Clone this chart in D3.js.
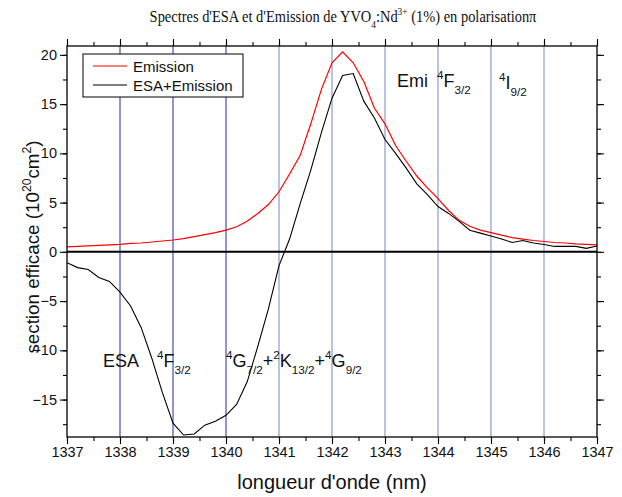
<!DOCTYPE html>
<html><head><meta charset="utf-8">
<script src="https://cdn.jsdelivr.net/npm/d3@7"></script>
<style>body{margin:0;background:#fff}svg{display:block}</style>
</head><body><svg id="c" width="622" height="497"></svg>
<script>
// ---- data ----
const wavelengths = d3.range(51).map(i => +(1337 + i * 0.2).toFixed(1));
const emission = [0.5,0.55,0.6,0.65,0.7,0.75,0.85,0.9,1.0,1.1,1.2,1.35,1.55,1.75,1.95,2.2,2.55,3.1,3.9,4.8,6.1,7.9,9.8,13.0,16.5,19.2,20.3,19.2,17.3,14.6,13.0,10.8,9.2,7.7,6.5,5.4,4.2,3.2,2.6,2.2,1.95,1.7,1.45,1.3,1.15,1.05,0.95,0.9,0.8,0.75,0.7];
const esaEmission = [-1.1,-1.6,-1.8,-2.6,-3.0,-4.1,-5.5,-7.7,-10.8,-14.3,-17.4,-18.6,-18.5,-17.6,-17.2,-16.6,-15.5,-13.2,-9.6,-5.8,-1.4,1.3,4.9,8.3,12.1,15.6,17.9,18.1,15.3,13.6,11.4,10.0,8.5,6.9,5.8,4.6,3.9,3.1,2.2,1.9,1.6,1.3,0.95,1.15,0.9,0.75,0.55,0.55,0.55,0.35,0.6];
const xTicks = [1337,1338,1339,1340,1341,1342,1343,1344,1345,1346,1347];
const yTicks = [-15,-10,-5,0,5,10,15,20];
const gridLines = [1338,1339,1340,1341,1342,1343,1344,1345,1346];
const seriesNames = ["Emission","ESA+Emission"];
const seriesColors = ["#ff0000","#000000"];

// ---- layout ----
const L = 67, R = 597, T = 46, B = 437;
const svg = d3.select("#c");
const x = d3.scaleLinear().domain([1337,1347]).range([L,R]);
const y = d3.scaleLinear().domain([-18.8,20.9]).range([B,T]);
const SANS = "'Liberation Sans', Arial, sans-serif";

svg.append("defs").append("clipPath").attr("id","clip")
  .append("rect").attr("x",L).attr("y",T).attr("width",R-L).attr("height",B-T);

// grid lines
svg.append("g").selectAll("line").data(gridLines).join("line")
  .attr("x1",d=>x(d)).attr("x2",d=>x(d)).attr("y1",T).attr("y2",B)
  .attr("stroke",d=>d<=1340?"#2f45a6":"#7f93cf").attr("stroke-width",1.1);

// zero line
svg.append("line").attr("x1",L).attr("x2",R).attr("y1",y(0)).attr("y2",y(0))
  .attr("stroke","#000").attr("stroke-width",2);

// curves
const line = d3.line().x((d,i)=>x(wavelengths[i])).y(d=>y(d));
const g = svg.append("g").attr("clip-path","url(#clip)");
g.append("path").datum(emission).attr("d",line).attr("fill","none").attr("stroke",seriesColors[0]).attr("stroke-width",1.2);
g.append("path").datum(esaEmission).attr("d",line).attr("fill","none").attr("stroke",seriesColors[1]).attr("stroke-width",1.1);

// axes
function styleAxis(sel){
  sel.selectAll(".domain").remove();
  sel.selectAll("line").attr("stroke","#000").attr("stroke-width",1.1);
  sel.selectAll("text").attr("font-family",SANS).attr("font-size",14.5).attr("fill","#111");
}
const minorX = d3.range(1337,1347.01,0.5);
const minorY = d3.range(-17.5,20.01,2.5);
svg.append("g").attr("transform",`translate(0,${B})`).call(d3.axisBottom(x).tickValues(xTicks).tickFormat(d3.format("d")).tickSize(7).tickPadding(3)).call(styleAxis);
svg.append("g").attr("transform",`translate(0,${B})`).call(d3.axisBottom(x).tickValues(minorX).tickFormat("").tickSize(4)).call(styleAxis);
svg.append("g").attr("transform",`translate(0,${T})`).call(d3.axisTop(x).tickValues(xTicks).tickFormat("").tickSize(7)).call(styleAxis);
svg.append("g").attr("transform",`translate(0,${T})`).call(d3.axisTop(x).tickValues(minorX).tickFormat("").tickSize(4)).call(styleAxis);
svg.append("g").attr("transform",`translate(${L},0)`).call(d3.axisLeft(y).tickValues(yTicks).tickFormat(d3.format("d")).tickSize(7).tickPadding(3)).call(styleAxis);
svg.append("g").attr("transform",`translate(${L},0)`).call(d3.axisLeft(y).tickValues(minorY).tickFormat("").tickSize(4)).call(styleAxis);
svg.append("g").attr("transform",`translate(${R},0)`).call(d3.axisRight(y).tickValues(yTicks).tickFormat("").tickSize(7)).call(styleAxis);
svg.append("g").attr("transform",`translate(${R},0)`).call(d3.axisRight(y).tickValues(minorY).tickFormat("").tickSize(4)).call(styleAxis);
svg.append("rect").attr("x",L).attr("y",T).attr("width",R-L).attr("height",B-T)
  .attr("fill","none").attr("stroke","#000").attr("stroke-width",1.3);

// rich text helper: segments [text, kind] kind: n|sup|sub
function rich(parent, px, py, segs, size, family, anchor){
  const t = parent.append("text").attr("x",px).attr("y",py).attr("font-family",family)
    .attr("font-size",size).attr("fill","#111").attr("text-anchor",anchor||"start");
  let shift = 0;
  segs.forEach(([s,k])=>{
    const target = k==="sup" ? -0.42*size : k==="sub" ? 0.38*size : 0;
    t.append("tspan").attr("dy",target-shift).attr("font-size",k==="n"?size:size*0.65).text(s);
    shift = target;
  });
  return t;
}

// title (horizontally condensed, as in the original export)
rich(svg.append("g").attr("transform","translate(343,22) scale(0.85,1)"), 0, 0,
  [["Spectres d'ESA et d'Emission de YVO","n"],["4","sub"],[":Nd","n"],["3+","sup"],[" (1%) en polarisation","n"],["π","n"]],
  17, "'Liberation Serif', 'Times New Roman', serif", "middle");

// axis titles
svg.append("text").attr("x",(L+R)/2).attr("y",489).attr("text-anchor","middle")
  .attr("font-family",SANS).attr("font-size",20).attr("fill","#111").text("longueur d'onde (nm)");
rich(svg.append("g").attr("transform","translate(39,247) rotate(-90)"), 0, 0,
  [["section efficace (10","n"],["20","sup"],["cm","n"],["2","sup"],[")","n"]], 18.8, SANS, "middle");

// annotations
const A = 18;
rich(svg, 397, 87, [["Emi","n"]], A, SANS);
rich(svg, 437, 87, [["4","sup"],["F","n"],["3/2","sub"]], A, SANS);
rich(svg, 499, 89, [["4","sup"],["I","n"],["9/2","sub"]], A, SANS);
rich(svg, 103, 367, [["ESA","n"]], A, SANS);
rich(svg, 157, 367, [["4","sup"],["F","n"],["3/2","sub"]], A, SANS);
rich(svg, 226, 367, [["4","sup"],["G","n"],["7/2","sub"],["+","n"],["2","sup"],["K","n"],["13/2","sub"],["+","n"],["4","sup"],["G","n"],["9/2","sub"]], A, SANS);

// legend
const lg = svg.append("g");
lg.append("rect").attr("x",83).attr("y",54).attr("width",160).attr("height",43)
  .attr("fill","#fff").attr("stroke","#000").attr("stroke-width",1);
seriesNames.forEach((n,i)=>{
  const yy = 66 + i*19;
  lg.append("line").attr("x1",93).attr("x2",127).attr("y1",yy).attr("y2",yy).attr("stroke",seriesColors[i]).attr("stroke-width",1.2);
  lg.append("text").attr("x",133).attr("y",yy+5.5).attr("font-family",SANS).attr("font-size",15).attr("fill","#111").text(n);
});
</script></body></html>
